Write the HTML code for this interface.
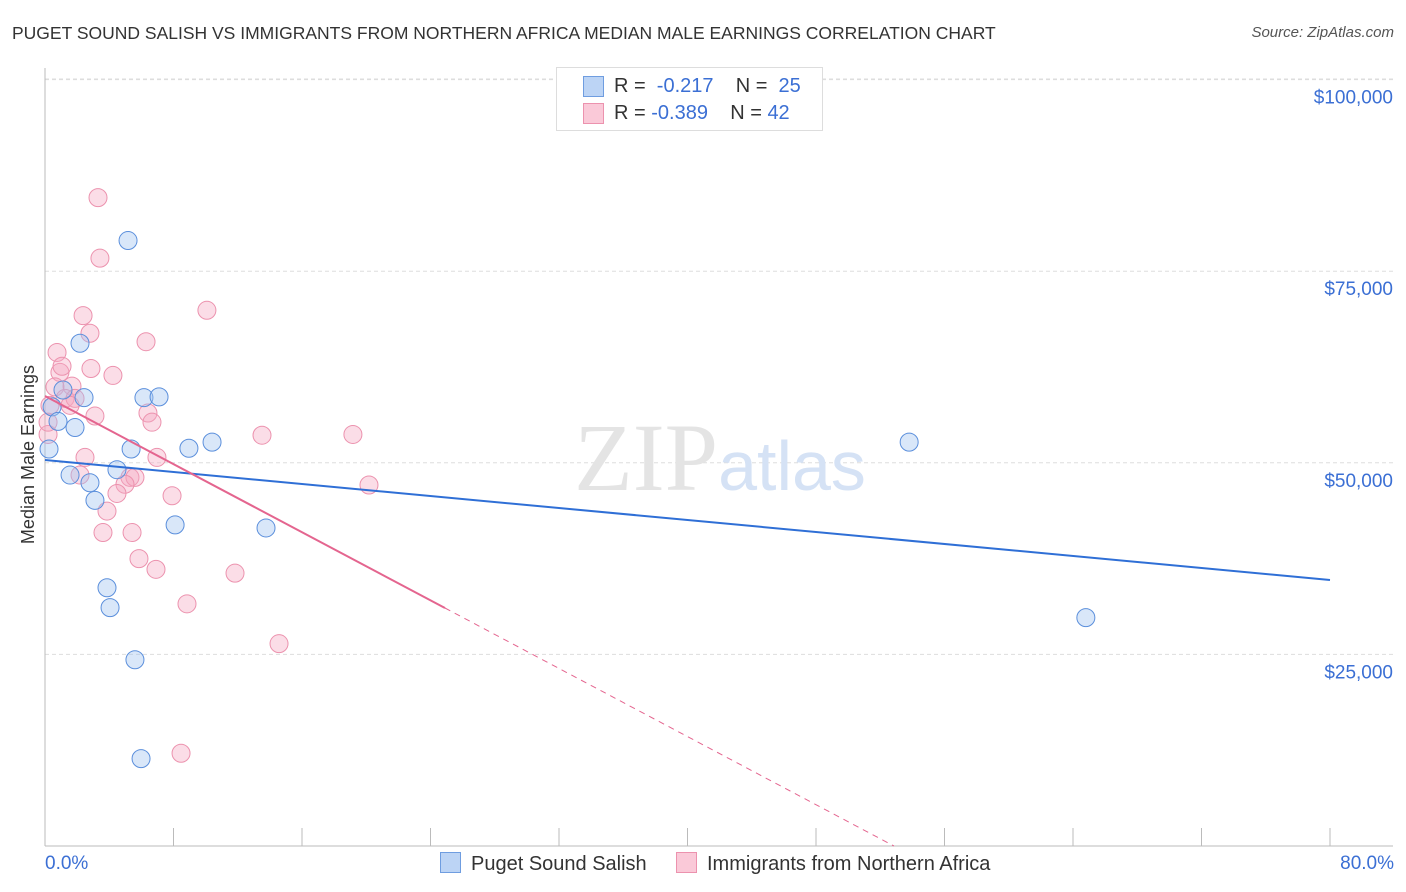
<!DOCTYPE html>
<html><head><meta charset="utf-8"><style>
body{margin:0;background:#fff;font-family:"Liberation Sans",sans-serif;}
#wrap{position:relative;width:1406px;height:892px;overflow:hidden;}
.t{position:absolute;white-space:nowrap;}
</style></head><body>
<div id="wrap">
<div class="t" style="left:12px;top:23px;font-size:17.5px;color:#333;">PUGET SOUND SALISH VS IMMIGRANTS FROM NORTHERN AFRICA MEDIAN MALE EARNINGS CORRELATION CHART</div>
<div class="t" style="right:12px;top:24px;font-size:15px;color:#555;font-style:italic;">Source: ZipAtlas.com</div>
<svg id="svg" width="1406" height="892" style="position:absolute;left:0;top:0"></svg>
</div>
<script>
const yTicks=[25000,50000,75000,100000];
const yTickLabels=["$25,000","$50,000","$75,000","$100,000"];
const blueX=[0.25,0.44,0.81,1.12,1.56,1.87,2.18,2.43,2.8,3.11,3.86,4.05,4.48,5.17,5.36,5.6,5.98,6.16,7.1,8.1,8.96,10.4,13.76,53.8,64.8];
const blueY=[51800,57300,55400,59500,48400,54600,65600,58500,47400,45100,33700,31100,49100,79000,51800,24300,11400,58500,58600,41900,51900,52700,41500,52700,29800];
const pinkX=[3.3,3.42,2.37,2.8,0.75,0.93,2.86,4.23,6.29,10.08,1.68,0.62,1.25,1.87,1.56,3.11,6.41,6.66,0.31,0.19,13.51,19.17,2.49,6.97,2.18,5.29,5.6,4.98,4.48,7.91,20.17,3.86,3.61,5.42,5.85,6.91,11.83,8.84,14.57,8.47,0.19,1.06];
const pinkY=[84600,76700,69200,66900,64400,61800,62300,61400,65800,69900,60000,59900,58400,58400,57500,56100,56500,55300,57500,53700,53600,53700,50700,50700,48400,48100,48100,47200,46000,45700,47100,43700,40900,40900,37500,36100,35600,31600,26400,12100,55300,62600];
const blueFit=[50365,34708];
const pinkFit=[58717,31054];
const pinkSolidEnd=24.9;

const svg=document.getElementById('svg');
const NS='http://www.w3.org/2000/svg';
const X0=45,X1=1330,YB=846,K=0.007664;
const sx=v=>X0+(v/80)*(X1-X0);
const sy=v=>YB-v*K;
function mk(tag,attrs,parent){const e=document.createElementNS(NS,tag);for(const k in attrs)e.setAttribute(k,attrs[k]);(parent||svg).appendChild(e);return e;}

yTicks.forEach((v,i)=>{
 const g=mk('line',{x1:X0,x2:1393,y1:sy(v),y2:sy(v),stroke:'#ddd','stroke-dasharray':'4,3'});
 
 
 const t=mk('text',{x:1393,y:sy(v)+24,'text-anchor':'end','font-size':19,fill:'#3b6fd4','font-family':'Liberation Sans, sans-serif'});
 t.textContent=yTickLabels[i];
 
 
});
const tg=mk('line',{x1:X0,x2:1393,y1:79,y2:79,stroke:'#ddd','stroke-dasharray':'4,3'});


const ya=mk('line',{x1:X0,x2:X0,y1:68,y2:YB,stroke:'#bbb'});


const xa=mk('line',{x1:X0,x2:1393,y1:YB,y2:YB,stroke:'#bbb'});


for(let i=0;i<=10;i++){
 const tk=mk('line',{x1:sx(i*8),x2:sx(i*8),y1:828,y2:YB,stroke:'#bbb'});
 
 
}
const wm=mk('text',{x:720,y:490,'text-anchor':'middle','font-size':96,fill:'#e4e4e4','font-family':'Liberation Serif, serif'});
wm.innerHTML='ZIP<tspan fill="#d5e2f5" font-family="Liberation Sans, sans-serif" font-size="70">atlas</tspan>';



pinkX.forEach((x,i)=>{
 const c=mk('circle',{cx:sx(x),cy:sy(pinkY[i]),r:9,fill:'rgba(246,170,195,0.4)',stroke:'#ec92ae','stroke-width':1});
 
 
});
blueX.forEach((x,i)=>{
 const c=mk('circle',{cx:sx(x),cy:sy(blueY[i]),r:9,fill:'rgba(160,195,240,0.4)',stroke:'#5b8fdc','stroke-width':1});
 
 
});
const bl=mk('line',{x1:sx(0),y1:sy(blueFit[0]),x2:sx(80),y2:sy(blueFit[1]),stroke:'#2f6fd6','stroke-width':2});


const slope=(pinkFit[1]-pinkFit[0])/pinkSolidEnd;
const zeroX=-pinkFit[0]/slope;
const pl=mk('line',{x1:sx(0),y1:sy(pinkFit[0]),x2:sx(pinkSolidEnd),y2:sy(pinkFit[1]),stroke:'#e4658f','stroke-width':2});


const pd=mk('line',{x1:sx(pinkSolidEnd),y1:sy(pinkFit[1]),x2:sx(zeroX),y2:sy(0),stroke:'#e4658f','stroke-width':1,'stroke-dasharray':'6,5'});


</script>
<div class="t" style="left:-64px;top:444px;width:185px;text-align:center;font-size:18px;color:#333;transform:rotate(-90deg);">Median Male Earnings</div>
<div class="t" style="left:45px;top:853px;font-size:19px;color:#3b6fd4;">0.0%</div>
<div class="t" style="right:12px;top:853px;font-size:19px;color:#3b6fd4;">80.0%</div>
<div style="position:absolute;left:556px;top:67px;width:265px;height:62px;border:1px solid #ddd;background:#fff;font-size:20px;color:#333;">
 <div style="position:absolute;left:26px;top:8px;width:19px;height:19px;background:#bcd4f5;border:1px solid #6f9de0;"></div>
 <div class="t" style="left:57px;top:7px;">R = &nbsp;<span style="color:#3b6fd4">-0.217</span>&nbsp;&nbsp;&nbsp; N = &nbsp;<span style="color:#3b6fd4">25</span></div>
 <div style="position:absolute;left:26px;top:35px;width:19px;height:19px;background:#fac9d8;border:1px solid #ec92ae;"></div>
 <div class="t" style="left:57px;top:34px;">R = <span style="color:#3b6fd4">-0.389</span>&nbsp;&nbsp;&nbsp; N = <span style="color:#3b6fd4">42</span></div>
</div>
<div style="position:absolute;left:440px;top:852px;font-size:20px;color:#333;">
 <span style="position:absolute;left:0;top:0;white-space:nowrap;"><span style="display:inline-block;width:19px;height:19px;background:#bcd4f5;border:1px solid #6f9de0;vertical-align:-3px;margin-right:10px;"></span>Puget Sound Salish</span>
 <span style="position:absolute;left:236px;top:0;white-space:nowrap;"><span style="display:inline-block;width:19px;height:19px;background:#fac9d8;border:1px solid #ec92ae;vertical-align:-3px;margin-right:10px;"></span>Immigrants from Northern Africa</span>
</div>
</body></html>
